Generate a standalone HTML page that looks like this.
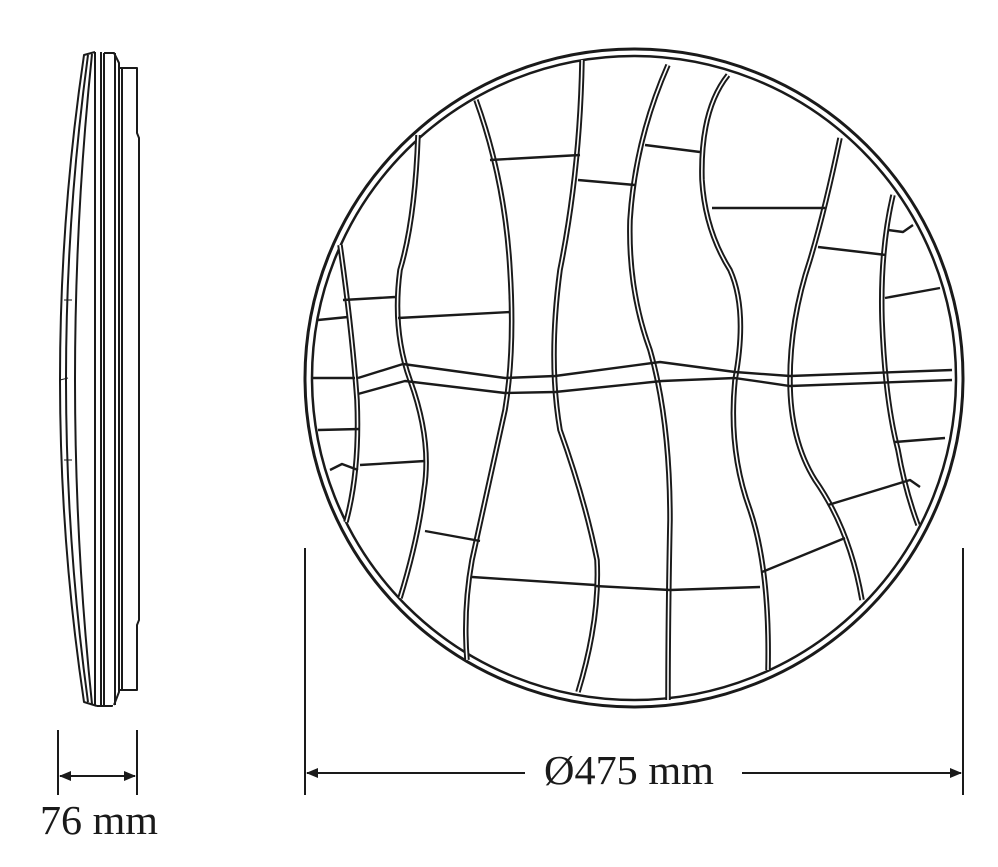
<!DOCTYPE html>
<html><head><style>
html,body{margin:0;padding:0;background:#fff;}
svg{display:block;}
text{font-family:"Liberation Serif",serif;fill:#1a1a1a;}
</style></head><body>
<svg width="998" height="867" viewBox="0 0 998 867" xmlns="http://www.w3.org/2000/svg">
<defs>
<marker id="a" markerWidth="12" markerHeight="10" refX="11" refY="5" orient="auto-start-reverse" markerUnits="userSpaceOnUse" viewBox="0 0 12 10"><path d="M0,0 L12,5 L0,10 z" fill="#1a1a1a"/></marker>
</defs>
<g fill="none" stroke="#1a1a1a" stroke-linejoin="round">
<!-- side view -->
<g stroke-width="2">
<path d="M95,52 L84,55 Q36,380 84,702 L97,706"/>
<path d="M88,55 Q44,380 88,702"/>
<path d="M92,54 Q58,380 92,704"/>
<path d="M95,52 L95,706"/>
<path d="M101,52 L101,706"/>
<path d="M104,53 L104,705"/>
<path d="M97,706 L112,706 L112,705"/>
<path d="M104,53 L114,53 L119,63 L119,692 L114,705"/>
<path d="M115,53 L115,705"/>
<path d="M119,68 L137,68 L137,133 L139,138 L139,620 L137,625 L137,690 L119,690"/>
<path d="M122,68 L122,690"/>
<path d="M64,300 L72,300 M60,380 L68,378 M64,460 L72,460" stroke-width="1"/>
</g>
<!-- 76 mm dim -->
<g stroke-width="2">
<line x1="58" y1="730" x2="58" y2="795"/>
<line x1="137" y1="730" x2="137" y2="795"/>
<line x1="60" y1="776" x2="135" y2="776" marker-start="url(#a)" marker-end="url(#a)"/>
</g>
<!-- 475 dim -->
<g stroke-width="2">
<line x1="305" y1="548" x2="305" y2="795"/>
<line x1="963" y1="548" x2="963" y2="795"/>
<line x1="307" y1="773" x2="525" y2="773" marker-start="url(#a)"/>
<line x1="742" y1="773" x2="961" y2="773" marker-end="url(#a)"/>
</g>
<!-- circle -->
<circle cx="634" cy="378" r="329" stroke-width="3"/>
<circle cx="634" cy="378" r="322" stroke-width="2.5"/>
<g stroke-width="5.5">
<path d="M340,245 Q352,330 357,400 Q360,470 346,522"/>
<path d="M418,135 Q415,220 400,270 Q392,330 410,380 Q432,440 424,490 Q418,540 400,598"/>
<path d="M476,100 Q505,180 510,270 Q515,350 505,410 Q485,500 472,560 Q463,610 467,660"/>
<path d="M582,60 Q580,170 560,270 Q548,360 560,430 Q585,500 597,560 Q600,620 578,692"/>
<path d="M668,65 Q635,140 630,220 Q628,290 650,350 Q670,420 670,520 Q668,620 668,700"/>
<path d="M728,75 Q700,110 702,180 Q705,230 730,270 Q748,310 735,380 Q728,450 750,510 Q770,570 768,670"/>
<path d="M840,138 Q825,210 810,260 Q790,320 790,380 Q790,440 815,480 Q850,530 862,600"/>
<path d="M893,195 Q880,250 882,320 Q885,400 898,450 Q905,490 918,525"/>
</g>
<g stroke="#fff" stroke-width="1.6">
<path d="M340,245 Q352,330 357,400 Q360,470 346,522"/>
<path d="M418,135 Q415,220 400,270 Q392,330 410,380 Q432,440 424,490 Q418,540 400,598"/>
<path d="M476,100 Q505,180 510,270 Q515,350 505,410 Q485,500 472,560 Q463,610 467,660"/>
<path d="M582,60 Q580,170 560,270 Q548,360 560,430 Q585,500 597,560 Q600,620 578,692"/>
<path d="M668,65 Q635,140 630,220 Q628,290 650,350 Q670,420 670,520 Q668,620 668,700"/>
<path d="M728,75 Q700,110 702,180 Q705,230 730,270 Q748,310 735,380 Q728,450 750,510 Q770,570 768,670"/>
<path d="M840,138 Q825,210 810,260 Q790,320 790,380 Q790,440 815,480 Q850,530 862,600"/>
<path d="M893,195 Q880,250 882,320 Q885,400 898,450 Q905,490 918,525"/>
</g>
<g stroke-width="2.4">
<path d="M358,378 L403,364 L505,378 L555,376 L660,362 L735,372 L790,376 L952,370"/>
<path d="M358,394 L405,381 L505,393 L555,392 L662,381 L735,378 L790,386 L952,380"/>
<path d="M313,378 L355,378"/>
<path d="M490,160 L580,155"/>
<path d="M578,180 L635,185"/>
<path d="M645,145 L700,152"/>
<path d="M712,208 L825,208"/>
<path d="M818,247 L886,255"/>
<path d="M888,230 L903,232 L913,225"/>
<path d="M343,300 L395,297"/>
<path d="M318,320 L348,317"/>
<path d="M398,318 L510,312"/>
<path d="M318,430 L360,429"/>
<path d="M330,470 L342,464 L358,470"/>
<path d="M360,465 L425,461"/>
<path d="M425,531 L480,541"/>
<path d="M472,577 L595,585"/>
<path d="M595,586 L670,590"/>
<path d="M670,590 L760,587"/>
<path d="M762,572 L845,538"/>
<path d="M828,505 L910,480 L920,487"/>
<path d="M885,298 L940,288"/>
<path d="M895,442 L945,438"/>
</g>
</g>
<text x="629" y="784" font-size="41" text-anchor="middle" textLength="170" lengthAdjust="spacingAndGlyphs">Ø475 mm</text>
<text x="99" y="834" font-size="41" text-anchor="middle" textLength="118" lengthAdjust="spacingAndGlyphs">76 mm</text>
</svg>
</body></html>
